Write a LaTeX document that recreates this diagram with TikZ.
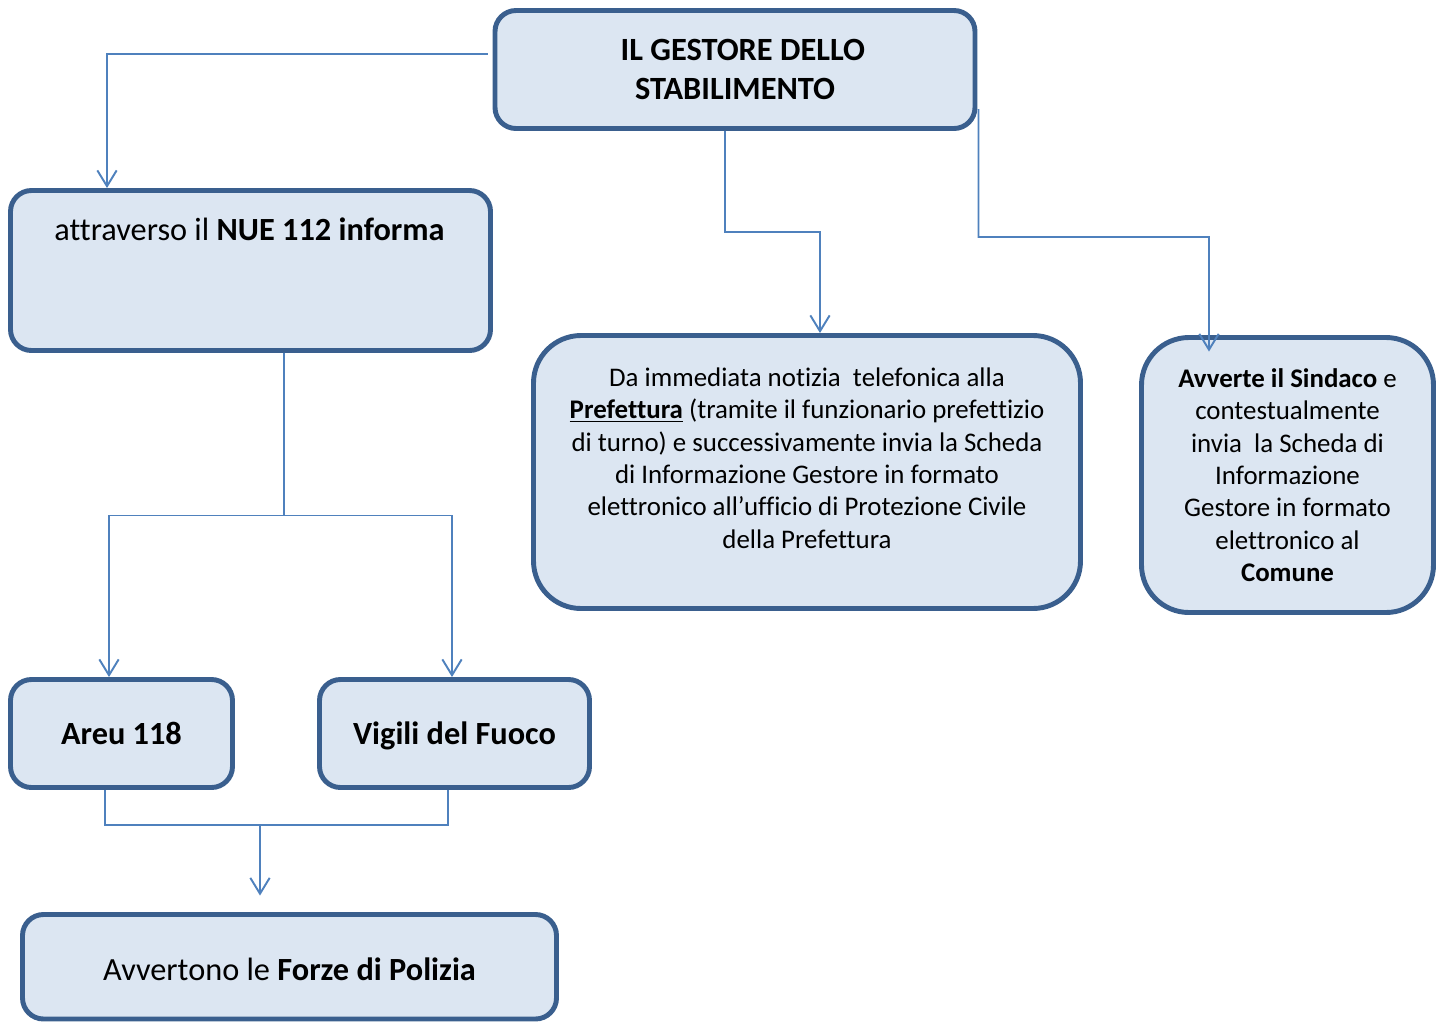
\documentclass[tikz,border=0pt]{standalone}
\usepackage{fontspec}
\setmainfont[Ligatures={NoCommon}]{Carlito}
\usetikzlibrary{positioning,arrows.meta}
\definecolor{boxfill}{HTML}{DCE6F2}
\definecolor{boxline}{HTML}{3A5F8E}
\definecolor{connline}{HTML}{4F81BD}
\tikzset{
    box/.style={draw=boxline, fill=boxfill, line width=2.8pt, rounded corners=0.42cm, align=center, inner sep=0pt},
    bigbox/.style={box, rounded corners=0.95cm},
    txt/.style={align=center, inner sep=0pt},
    conn/.style={draw=connline, line width=1.1pt, -{Straight Barb[length=9pt,width=11pt,line width=1.1pt]}},
    link/.style={draw=connline, line width=1.1pt}
}

\begin{document}
\begin{tikzpicture}[x=1cm, y=-1cm]
    \useasboundingbox (0,0) rectangle (28.8,20.46);

    % Gestore at the top
    \node[box, minimum width=9.6cm, minimum height=2.36cm, font=\fontsize{18.45}{22.1}\selectfont\bfseries] (gest) at (14.70,1.39) {\hspace*{9pt}IL GESTORE DELLO\\STABILIMENTO};

    % First level
    \node[box, minimum width=9.6cm, minimum height=3.2cm] (nue) at (5.01,5.41) {};
    \node[txt, font=\fontsize{18.4}{22}\selectfont] (nueT) at (4.99,4.58) {attraverso il \textbf{NUE 112 informa}};

    \node[bigbox, minimum width=10.94cm, minimum height=5.46cm] (pref) at (16.14,9.44) {};
    \node[txt, font=\fontsize{15.3}{18.4}\selectfont] (prefT) at (16.14,9.16) {Da immediata notizia\ \ telefonica alla\\
        \underline{\textbf{Prefettura}} (tramite il funzionario prefettizio\\
        di turno) e successivamente invia la Scheda\\
        di Informazione Gestore in formato\\
        elettronico all’ufficio di Protezione Civile\\
        della Prefettura};

    \node[bigbox, minimum width=5.84cm, minimum height=5.5cm, font=\fontsize{15.3}{18.4}\selectfont] (sind) at (25.75,9.5) {\textbf{Avverte il Sindaco} e\\
        contestualmente\\
        invia\ \ la Scheda di\\
        Informazione\\
        Gestore in formato\\
        elettronico al\\
        \textbf{Comune}};

    % Second level
    \node[box, minimum width=4.44cm, minimum height=2.16cm, text depth=0pt, font=\fontsize{18.4}{22}\selectfont\bfseries] (areu) at (2.43,14.67) {Areu 118};
    \node[box, minimum width=5.4cm, minimum height=2.16cm, text depth=0pt, font=\fontsize{18.4}{22}\selectfont\bfseries] (vig) at (9.09,14.67) {Vigili del Fuoco};

    % Bottom
    \node[box, minimum width=10.68cm, minimum height=2.09cm, text height=15.5pt, text depth=0pt, font=\fontsize{18.4}{22}\selectfont] (forze) at (5.79,19.335) {Avvertono le \textbf{Forze di Polizia}};

    % Bend points
    \coordinate (b1) at (16.40,4.64);
    \coordinate (b2) at (24.18,4.74);
    \coordinate (split) at (5.68,10.31);
    \coordinate (join) at (5.20,16.50);

    % Connections from the Gestore
    \draw[conn] ([yshift=3.1mm,xshift=-1mm]gest.west) -| ([xshift=-28.7mm]nue.north);
    \draw[conn] ([xshift=-2mm]gest.south) |- (b1) -- ([xshift=2.6mm]pref.north);
    \draw[conn] ([yshift=-7.9mm,xshift=0.2mm]gest.east) |- (b2) -- ([xshift=-15.7mm,yshift=-3.3mm]sind.north);

    % NUE to Areu and Vigili
    \draw[link] ([xshift=6.7mm]nue.south) -- (split);
    \draw[conn] (split) -| ([xshift=-2.5mm]areu.north);
    \draw[conn] (split) -| ([xshift=-0.5mm]vig.north);

    % Areu and Vigili to Forze di Polizia
    \draw[link] ([xshift=-3.3mm]areu.south) |- (join) -| ([xshift=-1.3mm]vig.south);
    \draw[conn] (join) -- ([xshift=-5.9mm,yshift=3.3mm]forze.north);
\end{tikzpicture}
\end{document}
